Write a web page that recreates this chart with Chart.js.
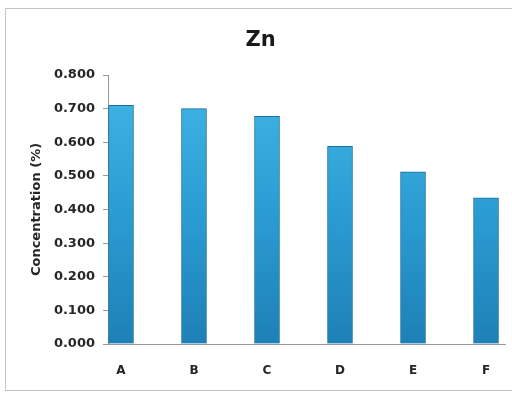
<!DOCTYPE html>
<html>
<head>
<meta charset="utf-8">
<script src="https://cdn.jsdelivr.net/npm/chart.js@4"></script>
<style>
  body { margin: 0; background: #fff; }
  #wrap { position: relative; width: 512px; height: 396px; overflow: hidden; }
  #frame { position: absolute; left: 5px; top: 8px; width: 520px; height: 381px; border: 1px solid #c4c4c4; }
  canvas { position: absolute; left: 0; top: 0; }
</style>
</head>
<body>
<div id="wrap">
  <div id="frame"></div>
  <canvas id="chart" width="512" height="396"></canvas>
</div>
<script>
const categories = ['A', 'B', 'C', 'D', 'E', 'F'];
const znValues = [0.710, 0.700, 0.677, 0.588, 0.512, 0.435];
const yTicks = [0, 0.1, 0.2, 0.3, 0.4, 0.5, 0.6, 0.7, 0.8];

const FONT = "'DejaVu Sans', sans-serif";

// bar fill: light at top, darker toward the base
function barFill(context) {
    const chart = context.chart;
    const area = chart.chartArea;
    if (!area) return '#2a9dd3';
    const g = chart.ctx.createLinearGradient(0, area.top, 0, area.bottom);
    g.addColorStop(0, '#41b6e6');
    g.addColorStop(0.5, '#2b9dd3');
    g.addColorStop(1, '#1d80b6');
    return g;
}

const ctx = document.getElementById('chart').getContext('2d');

new Chart(ctx, {
    type: 'bar',
    data: {
        datasets: [{
            label: 'Zn',
            data: znValues.map((v, i) => ({ x: i, y: v })),
            backgroundColor: barFill,
            borderColor: '#1a6f9d',
            borderWidth: 1,
            borderSkipped: 'bottom',
            barThickness: 25
        }]
    },
    options: {
        responsive: false,
        animation: false,
        layout: { padding: { left: 16, right: 7, top: 0, bottom: 0 } },
        plugins: {
            legend: { display: false },
            tooltip: { enabled: false },
            title: {
                display: true,
                text: 'Zn',
                color: '#1a1a1a',
                font: { family: FONT, size: 21, weight: 'bold' },
                padding: { top: 28, bottom: 21.8 }
            }
        },
        scales: {
            x: {
                type: 'linear',
                offset: false,
                min: -0.178,
                max: 5.26,
                afterFit: s => { s.height = 52; },
                grid: { display: false, drawTicks: false },
                border: { display: true, color: '#9a9a9a', width: 1 },
                ticks: {
                    stepSize: 1,
                    includeBounds: false,
                    padding: 20,
                    color: '#262626',
                    font: { family: FONT, size: 12, weight: 'bold' },
                    callback: v => categories[v] ?? ''
                }
            },
            y: {
                min: 0,
                max: 0.8,
                afterFit: s => { s.width = 92; },
                afterBuildTicks: s => { s.ticks = yTicks.map(v => ({ value: v })); },
                grid: { drawOnChartArea: false, drawTicks: true, tickLength: 5, color: '#9a9a9a' },
                border: { display: true, color: '#9a9a9a', width: 1 },
                ticks: {
                    padding: 8,
                    color: '#262626',
                    font: { family: FONT, size: 13, weight: 'bold' },
                    callback: v => Number(v).toFixed(3)
                },
                title: {
                    display: true,
                    text: 'Concentration (%)',
                    color: '#262626',
                    font: { family: FONT, size: 13, weight: 'bold' },
                    padding: { top: 13, bottom: 0 }
                }
            }
        }
    }
});
</script>
</body>
</html>
